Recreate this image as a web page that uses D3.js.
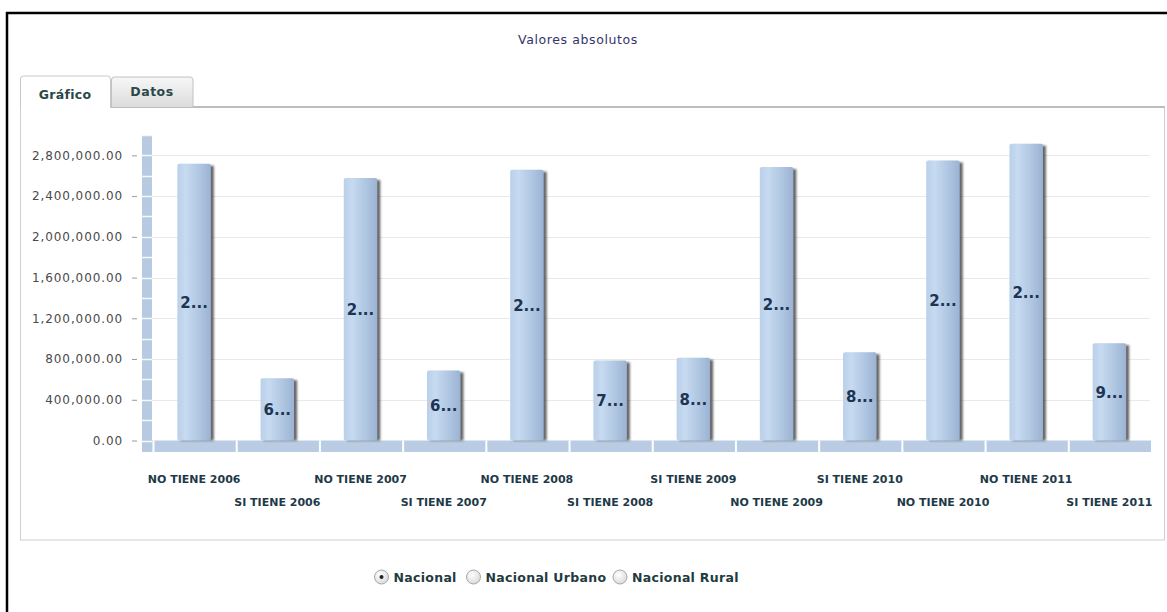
<!DOCTYPE html>
<html>
<head>
<meta charset="utf-8">
<script src="https://cdn.jsdelivr.net/npm/d3@7"></script>
<style>
  html, body { margin: 0; padding: 0; background: #fff; }
  svg { display: block; }
  text { font-family: "DejaVu Sans", Verdana, sans-serif; }
</style>
</head>
<body>
<svg id="chart" width="1167" height="612"></svg>
<script>
// ---- data ----
const categories = ["NO TIENE 2006", "SI TIENE 2006", "NO TIENE 2007", "SI TIENE 2007",
  "NO TIENE 2008", "SI TIENE 2008", "SI TIENE 2009", "NO TIENE 2009",
  "SI TIENE 2010", "NO TIENE 2010", "NO TIENE 2011", "SI TIENE 2011"];
const values = [2718000, 612000, 2577000, 688000, 2659000, 786000,
  812000, 2685000, 867000, 2750000, 2915000, 956000];
const yTicks = [0, 400000, 800000, 1200000, 1600000, 2000000, 2400000, 2800000];
const title = "Valores absolutos";
const tabs = ["Gráfico", "Datos"];
const radioOptions = ["Nacional", "Nacional Urbano", "Nacional Rural"];

// ---- drawing ----
const svg = d3.select("#chart");
const defs = svg.append("defs");

const barGrad = defs.append("linearGradient").attr("id", "barGrad")
  .attr("x1", "0%").attr("x2", "100%").attr("y1", "0%").attr("y2", "0%");
[["0%", "#bad0ea"], ["25%", "#c6daf0"], ["70%", "#adc4e0"], ["100%", "#9bb3d3"]]
  .forEach(([o, c]) => barGrad.append("stop").attr("offset", o).attr("stop-color", c));

const tabGrad = defs.append("linearGradient").attr("id", "tabGrad")
  .attr("x1", "0%").attr("x2", "0%").attr("y1", "0%").attr("y2", "100%");
[["0%", "#f7f7f7"], ["100%", "#dcdcdc"]]
  .forEach(([o, c]) => tabGrad.append("stop").attr("offset", o).attr("stop-color", c));

const radioGrad = defs.append("radialGradient").attr("id", "radioGrad")
  .attr("cx", "40%").attr("cy", "35%").attr("r", "70%");
[["0%", "#ffffff"], ["100%", "#d8d8d8"]]
  .forEach(([o, c]) => radioGrad.append("stop").attr("offset", o).attr("stop-color", c));

const blur = defs.append("filter").attr("id", "blur")
  .attr("x", "-50%").attr("y", "-10%").attr("width", "200%").attr("height", "120%");
blur.append("feGaussianBlur").attr("stdDeviation", 1);

// outer frame (black)
svg.append("line").attr("x1", 6).attr("x2", 1167).attr("y1", 13).attr("y2", 13)
  .attr("stroke", "#000").attr("stroke-width", 2.5);
svg.append("line").attr("x1", 7).attr("x2", 7).attr("y1", 12).attr("y2", 612)
  .attr("stroke", "#000").attr("stroke-width", 2.5);

// title
svg.append("text").attr("x", 578).attr("y", 44).attr("text-anchor", "middle")
  .attr("font-size", 12.5).attr("letter-spacing", 0.6).attr("fill", "#34346c").text(title);

// panel
svg.append("rect").attr("x", 20.5).attr("y", 107).attr("width", 1144).attr("height", 433)
  .attr("fill", "#fff").attr("stroke", "#cfcfcf").attr("stroke-width", 1);
svg.append("line").attr("x1", 20).attr("x2", 1165).attr("y1", 107).attr("y2", 107)
  .attr("stroke", "#bdbdbd").attr("stroke-width", 2);

// tabs
svg.append("path").attr("d", "M111.5,107 L111.5,80 Q111.5,77 114.5,77 L190,77 Q193,77 193,80 L193,107")
  .attr("fill", "url(#tabGrad)").attr("stroke", "#c2c2c2");
svg.append("path").attr("d", "M20.5,108 L20.5,79 Q20.5,76 23.5,76 L107.5,76 Q110.5,76 110.5,79 L110.5,108 Z")
  .attr("fill", "#fff").attr("stroke", "none");
svg.append("path").attr("d", "M20.5,108 L20.5,79 Q20.5,76 23.5,76 L107.5,76 Q110.5,76 110.5,79 L110.5,108")
  .attr("fill", "none").attr("stroke", "#c8c8c8");
svg.append("text").attr("x", 65).attr("y", 99).attr("text-anchor", "middle")
  .attr("font-size", 12.5).attr("font-weight", "bold").attr("letter-spacing", 0.3)
  .attr("fill", "#2b4848").text(tabs[0]);
svg.append("text").attr("x", 152).attr("y", 96).attr("text-anchor", "middle")
  .attr("font-size", 12.5).attr("font-weight", "bold").attr("letter-spacing", 0.5)
  .attr("fill", "#2b4848").text(tabs[1]);

// scales
const x = d3.scaleBand().domain(categories).range([152.5, 1151]).padding(0);
const y = d3.scaleLinear().domain([0, 3000000]).range([440.5, 135]);
const barW = 33.5;

// gridlines
svg.append("g").selectAll("line").data(yTicks).join("line")
  .attr("x1", 152).attr("x2", 1150)
  .attr("y1", d => Math.round(y(d)) + 0.5).attr("y2", d => Math.round(y(d)) + 0.5)
  .attr("stroke", "#e9e9e9");

// left wall
svg.append("rect").attr("x", 142).attr("y", y(3000000)).attr("width", 10)
  .attr("height", 452 - y(3000000)).attr("fill", "#b8cae2");
svg.append("g").selectAll("line").data(d3.range(0, 3000001, 200000)).join("line")
  .attr("x1", 142).attr("x2", 152)
  .attr("y1", d => Math.round(y(d)) + 0.5).attr("y2", d => Math.round(y(d)) + 0.5)
  .attr("stroke", "#fff").attr("stroke-opacity", 0.85).attr("stroke-width", 1.5);

// floor
svg.append("rect").attr("x", 152).attr("y", y(0)).attr("width", 999)
  .attr("height", 452 - y(0)).attr("fill", "#bacce3");
svg.append("g").selectAll("line").data(categories).join("line")
  .attr("x1", d => x(d) + 1).attr("x2", d => x(d) + 1)
  .attr("y1", y(0)).attr("y2", 458)
  .attr("stroke", "#fff").attr("stroke-width", 2);

// y axis
const yAxis = svg.append("g").attr("transform", "translate(137,0)")
  .call(d3.axisLeft(y).tickValues(yTicks).tickFormat(d3.format(",.2f")).tickSize(5).tickPadding(9));
yAxis.select(".domain").remove();
yAxis.selectAll(".tick line").attr("stroke", "#9a9a9a");
yAxis.selectAll("text").attr("font-size", 12).attr("letter-spacing", 0.9)
  .attr("fill", "#4a4a4a").attr("font-family", "DejaVu Sans, sans-serif");

// bars
const bars = svg.append("g").selectAll("g").data(categories).join("g");
bars.append("rect")
  .attr("x", (d) => x(d) + (x.bandwidth() - barW) / 2 + 3)
  .attr("y", (d, i) => y(values[i]) + 2)
  .attr("width", barW).attr("height", (d, i) => y(0) - y(values[i]) - 2)
  .attr("fill", "#3f3f3f").attr("opacity", 0.8).attr("filter", "url(#blur)");
bars.append("rect")
  .attr("x", (d) => x(d) + (x.bandwidth() - barW) / 2)
  .attr("y", (d, i) => y(values[i]))
  .attr("width", barW).attr("height", (d, i) => y(0) - y(values[i]))
  .attr("rx", 2)
  .attr("fill", "url(#barGrad)");
bars.append("text")
  .attr("x", (d) => x(d) + x.bandwidth() / 2)
  .attr("y", (d, i) => (y(values[i]) + y(0)) / 2 + 1)
  .attr("text-anchor", "middle").attr("dominant-baseline", "central")
  .attr("font-size", 15).attr("font-weight", "bold").attr("fill", "#1d3452")
  .text((d, i) => String(values[i])[0] + "...");

// x axis labels (staggered)
const xAxis = svg.append("g").attr("transform", `translate(0,${y(0)})`)
  .call(d3.axisBottom(x).tickSize(0).tickPadding(0));
xAxis.select(".domain").remove();
xAxis.selectAll("text")
  .attr("dy", null)
  .attr("y", (d, i) => (i % 2 === 0 ? 483 : 506) - y(0))
  .attr("font-size", 11).attr("font-weight", "bold")
  .attr("fill", "#1e3a48").attr("font-family", "DejaVu Sans, sans-serif");

// radio options
const radioX = [381.5, 473.5, 620];
const radios = svg.append("g").selectAll("g").data(radioOptions).join("g")
  .attr("transform", (d, i) => `translate(${radioX[i]},577)`);
radios.append("circle").attr("r", 7).attr("fill", "url(#radioGrad)")
  .attr("stroke", "#a8a8a8").attr("stroke-width", 1);
radios.filter((d, i) => i === 0).append("circle").attr("r", 2).attr("fill", "#222");
radios.append("text").attr("x", 12).attr("y", 5)
  .attr("font-size", 12.5).attr("font-weight", "bold").attr("letter-spacing", 0.3)
  .attr("fill", "#1f3b40")
  .text(d => d);
</script>
</body>
</html>
